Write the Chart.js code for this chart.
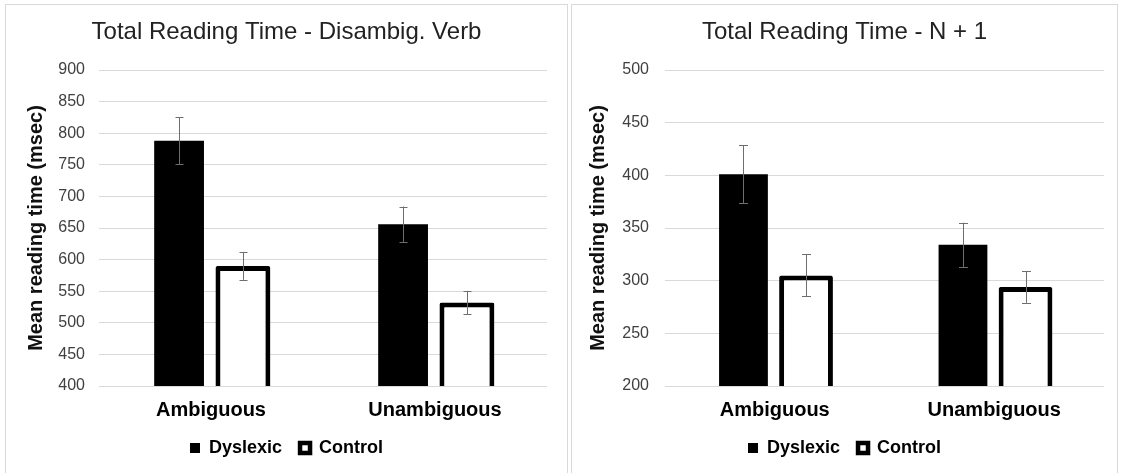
<!DOCTYPE html>
<html>
<head>
<meta charset="utf-8">
<script src="https://cdn.jsdelivr.net/npm/chart.js@4.4.1/dist/chart.umd.min.js"></script>
<style>
  html, body { margin: 0; padding: 0; background: #fff; width: 1121px; height: 473px; overflow: hidden; }
  .panel { position: absolute; top: 4px; border: 1px solid #d9d9d9; height: 480px; box-sizing: border-box; background: #fff; }
  #p1 { left: 5px; width: 563px; }
  #p2 { left: 571px; width: 547px; }
  canvas { display: block; }
</style>
</head>
<body>
<div class="panel" id="p1"><canvas id="c1" width="561" height="468"></canvas></div>
<div class="panel" id="p2"><canvas id="c2" width="545" height="468"></canvas></div>
<script>
const categories = ['Ambiguous', 'Unambiguous'];
const seriesNames = ['Dyslexic', 'Control'];

// Chart 1: Total Reading Time - Disambig. Verb
const verbTitle = 'Total Reading Time - Disambig. Verb';
const verbDyslexic = [788, 656];
const verbControl = [590, 532];
const verbDyslexicErr = [37.5, 28];
const verbControlErr = [22, 18.5];
const verbAxisMin = 400, verbAxisMax = 900, verbStep = 50;

// Chart 2: Total Reading Time - N + 1
const n1Title = 'Total Reading Time - N + 1';
const n1Dyslexic = [401, 334];
const n1Control = [305, 294];
const n1DyslexicErr = [27.5, 21];
const n1ControlErr = [20, 15];
const n1AxisMin = 200, n1AxisMax = 500, n1Step = 50;

const yAxisTitle = 'Mean reading time (msec)';
const FONT = '"Liberation Sans", Arial, Helvetica, sans-serif';

const errorBarPlugin = {
  id: 'errorBars',
  afterDatasetsDraw(chart, args, opts) {
    const ctx = chart.ctx;
    const y = chart.scales.y;
    ctx.save();
    ctx.strokeStyle = opts.color;
    ctx.lineWidth = 1;
    opts.errors.forEach((errs, di) => {
      const meta = chart.getDatasetMeta(di);
      const vals = chart.data.datasets[di].data;
      meta.data.forEach((bar, j) => {
        const x = Math.round(bar.x) + 0.5;
        const top = y.getPixelForValue(vals[j] + errs[j]);
        const bot = y.getPixelForValue(vals[j] - errs[j]);
        const h = opts.cap / 2;
        ctx.beginPath();
        ctx.moveTo(x, top); ctx.lineTo(x, bot);
        ctx.moveTo(x - h, Math.round(top) + 0.5); ctx.lineTo(x + h, Math.round(top) + 0.5);
        ctx.moveTo(x - h, Math.round(bot) + 0.5); ctx.lineTo(x + h, Math.round(bot) + 0.5);
        ctx.stroke();
      });
    });
    ctx.restore();
  }
};

function makeChart(id, title, dys, ctl, dysErr, ctlErr, ymin, ymax, step, p) {
  return new Chart(document.getElementById(id), {
    type: 'bar',
    data: {
      labels: categories,
      datasets: [
        { label: seriesNames[0], data: dys, backgroundColor: '#000', borderWidth: 0,
          categoryPercentage: 0.57, barPercentage: 0.78 },
        { label: seriesNames[1], data: ctl, backgroundColor: '#fff', borderColor: '#000',
          borderWidth: { top: 5, left: 5, right: 5, bottom: 3 }, borderSkipped: false, borderRadius: 2,
          categoryPercentage: 0.57, barPercentage: 0.86 }
      ]
    },
    plugins: [errorBarPlugin],
    options: {
      responsive: false,
      devicePixelRatio: 1,
      animation: false,
      layout: { padding: { top: 0, left: 0, right: 0, bottom: 6 } },
      scales: {
        x: {
          grid: { display: false, drawTicks: false }, border: { display: false },
          ticks: { font: { family: FONT, size: 20, weight: 'bold' }, color: '#000', padding: 12 },
          afterFit: (s) => { s.height = 35; }
        },
        y: {
          min: ymin, max: ymax,
          grid: { color: '#d9d9d9', drawTicks: false, lineWidth: 1 }, border: { display: false },
          ticks: { stepSize: step, font: { family: FONT, size: 16 }, color: '#404040', padding: p.tickPad },
          title: { display: true, text: yAxisTitle, font: { family: FONT, size: 20, weight: 'bold' },
                   color: '#111', padding: { top: p.titlePad, bottom: 0 } },
          afterFit: (s) => { s.width = 93; }
        },
        yr: {
          position: 'right', display: true,
          grid: { display: false, drawTicks: false }, border: { display: false }, ticks: { display: false },
          afterFit: (s) => { s.width = p.right; }
        }
      },
      plugins: {
        title: { display: true, text: title, font: { family: FONT, size: 24, weight: 'normal' },
                 color: '#222', padding: { top: 12.6, bottom: 23.6 } },
        legend: {
          position: 'bottom',
          labels: {
            font: { family: FONT, size: 18, weight: 'bold' }, color: '#000',
            boxWidth: 10, boxHeight: 10, padding: 18,
            generateLabels: (chart) => {
              const items = Chart.defaults.plugins.legend.labels.generateLabels(chart);
              items[0].lineWidth = 0; items[0].fillStyle = '#000';
              items[1].lineWidth = 4.5; items[1].fillStyle = '#fff'; items[1].strokeStyle = '#000';
              return items;
            }
          }
        },
        tooltip: { enabled: false },
        errorBars: { errors: [dysErr, ctlErr], color: '#6e6e6e', cap: p.cap }
      }
    }
  });
}

makeChart('c1', verbTitle, verbDyslexic, verbControl, verbDyslexicErr, verbControlErr,
  verbAxisMin, verbAxisMax, verbStep, { tickPad: 14, titlePad: 18, right: 20, cap: 8 });
makeChart('c2', n1Title, n1Dyslexic, n1Control, n1DyslexicErr, n1ControlErr,
  n1AxisMin, n1AxisMax, n1Step, { tickPad: 16, titlePad: 14, right: 13, cap: 9 });
</script>
</body>
</html>
